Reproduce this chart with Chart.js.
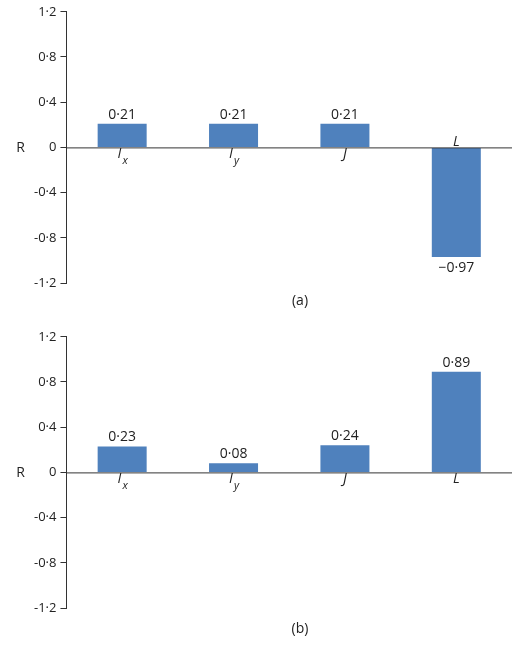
<!DOCTYPE html>
<html><head><meta charset="utf-8">
<script src="https://cdn.jsdelivr.net/npm/chart.js@4"></script>
<style>body{margin:0;background:#fff;font-family:"Open Sans";}
.w{position:relative;width:520px;}
.cap{position:absolute;width:100%;text-align:center;left:40px;font:14px "Open Sans";color:#222;}
</style></head><body>
<div class="w" style="height:325px"><canvas id="a"></canvas><div class="cap" style="top:290px">(a)</div></div>
<div class="w" style="height:325px"><canvas id="b"></canvas><div class="cap" style="top:293px">(b)</div></div>
<script>
const categories=[["I","x"],["I","y"],["J",""],["L",""]];
const valuesA=[0.21,0.21,0.21,-0.97];
const valuesB=[0.23,0.08,0.24,0.89];
const yTicks=[1.2,0.8,0.4,0,-0.4,-0.8,-1.2];
const fmt=v=>(v<0?'−':'')+Math.abs(v).toFixed(2).replace('.','·');
const tfmt=v=>v===0?'0':(v<0?'-':'')+Math.abs(v).toFixed(1).replace('.','·');
const labelPlugin={id:'lbl',afterDatasetsDraw(c){
 const ctx=c.ctx,y=c.scales.y,ca=c.chartArea,z=y.getPixelForValue(0);
 ctx.save();ctx.strokeStyle='#333';ctx.lineWidth=1;
 ctx.beginPath();ctx.moveTo(ca.left,z+0.5);ctx.lineTo(ca.right,z+0.5);ctx.stroke();
 ctx.fillStyle='#222';ctx.textAlign='center';
 ctx.font='14px "Open Sans"';ctx.textBaseline='middle';
 ctx.fillText('R',ca.left-46,z+1);
 c.getDatasetMeta(0).data.forEach((bar,i)=>{
  const v=c.data.datasets[0].data[i];
  ctx.font='14px "Open Sans"';ctx.textAlign='center';
  ctx.textBaseline=v>=0?'bottom':'top';
  ctx.fillText(fmt(v),bar.x,v>=0?bar.y-2:bar.y+4);
  const [m,s]=categories[i];
  const ly=v>=0?z+14:z-12;
  ctx.font='italic 14px "Open Sans"';
  const mw=ctx.measureText(m).width;ctx.font='italic 11px "Open Sans"';
  const sw=s?ctx.measureText(s).width:0;
  let x0=bar.x-(mw+sw)/2;ctx.textAlign='left';
  ctx.font='italic 14px "Open Sans"';ctx.fillText(m,x0,ly);
  if(s){ctx.font='italic 11px "Open Sans"';ctx.fillText(s,x0+mw+1,ly+5);}
 });ctx.restore();}};
function make(id,vals){
 new Chart(document.getElementById(id),{type:'bar',
 data:{labels:categories.map(c=>c.join('')),datasets:[{data:vals,backgroundColor:'#4f81bd',barPercentage:0.55,categoryPercentage:0.8}]},
 options:{responsive:false,animation:false,devicePixelRatio:1,
  layout:{padding:{left:30,right:8,top:10,bottom:42}},
  plugins:{legend:{display:false},tooltip:{enabled:false}},
  scales:{x:{display:false},
   y:{min:-1.2,max:1.2,afterBuildTicks:a=>{a.ticks=yTicks.map(v=>({value:v}));},
    ticks:{callback:tfmt,color:'#222',font:{family:'Open Sans',size:13},padding:4},
    grid:{drawOnChartArea:false,tickLength:6,color:'#333'},border:{color:'#333'}}}},
 plugins:[labelPlugin]});}
document.getElementById('a').width=520;document.getElementById('a').height=325;
document.getElementById('b').width=520;document.getElementById('b').height=325;
make('a',valuesA);make('b',valuesB);
</script></body></html>
